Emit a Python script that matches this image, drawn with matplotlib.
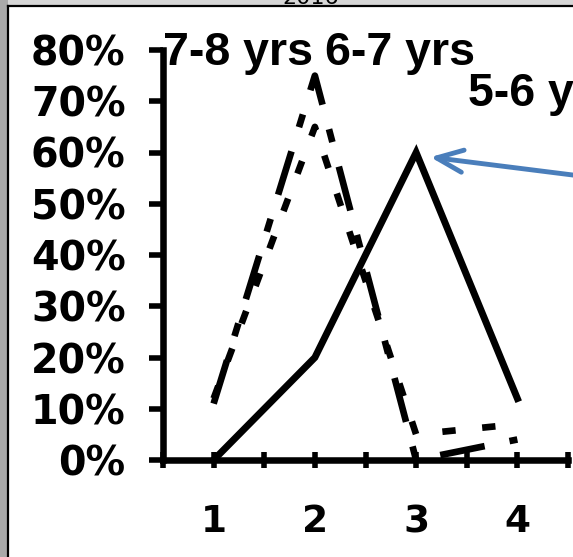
import matplotlib.pyplot as plt
from matplotlib.lines import Line2D
from matplotlib.patches import Rectangle
from matplotlib.ticker import PercentFormatter, MultipleLocator, FuncFormatter

# Dimensioni in pixel della figura
W, H = 573, 557

# Dati: quota per categoria e fascia d'eta
categories = [1, 2, 3, 4]
share_5_6 = [0, 20, 60, 12]
share_6_7 = [12, 65, 5, 7]
share_7_8 = [11, 75, 0, 4]
y_ticks = [0, 10, 20, 30, 40, 50, 60, 70, 80]
year_title = '2016'

plt.rcParams['font.family'] = 'DejaVu Sans'
plt.rcParams['font.weight'] = 'bold'


def fx(px):
    return px / W


def fy(py):
    return 1 - py / H


fig = plt.figure(figsize=(W / 100, H / 100), dpi=100)
fig.patch.set_facecolor('white')

# Cornice grigia e bordo nero
fig.add_artist(Rectangle((0, fy(6)), 1, 6 / H, transform=fig.transFigure,
                         color='#d6d6d6', lw=0, zorder=0))
fig.add_artist(Rectangle((0, 0), fx(8), 1, transform=fig.transFigure,
                         color='#a9a9a9', lw=0, zorder=0))
fig.add_artist(Line2D([fx(8), 1], [fy(6), fy(6)], transform=fig.transFigure,
                      color='black', lw=1.6))
fig.add_artist(Line2D([fx(8), fx(8)], [0, fy(6)], transform=fig.transFigure,
                      color='black', lw=1.6))
fig.text(fx(311), fy(4), year_title, ha='center', va='baseline',
         fontsize=16, fontweight='normal')

ax = fig.add_axes([fx(163), fy(460), (568 - 163) / W, 410 / H])
ax.set_facecolor('none')

# Serie
ax.plot(categories, share_5_6, color='black', lw=5.0, solid_joinstyle='miter',
        clip_on=False, zorder=3)
ax.plot(categories, share_6_7, color='black', lw=4.8,
        linestyle=(0, (2.0, 4.0)), clip_on=False, zorder=3)
ax.plot(categories, share_7_8, color='black', lw=4.8,
        linestyle=(0, (6.8, 3.8, 2.0, 3.8)), clip_on=False, zorder=3)

ax.set_xlim(0.5, 4.5)
ax.set_ylim(0, 80)

# Assi
for side in ['top', 'right']:
    ax.spines[side].set_visible(False)
for side in ['left', 'bottom']:
    ax.spines[side].set_linewidth(4.7)

ax.set_yticks(y_ticks)
ax.yaxis.set_major_formatter(PercentFormatter(100, decimals=0))
ax.tick_params(axis='y', direction='out', length=10, width=4, pad=17,
               labelsize=28.5)

# Tacche ogni mezza unita, etichette solo sulle categorie
ax.xaxis.set_major_locator(MultipleLocator(0.5))
ax.xaxis.set_major_formatter(
    FuncFormatter(lambda v, pos: str(int(round(v))) if round(v) in categories
                  and abs(v - round(v)) < 1e-6 else ''))
ax.tick_params(axis='x', direction='inout', length=12, width=4, pad=26,
               labelsize=27)

# Etichette delle serie
label_font = dict(family='Liberation Sans', fontweight='bold', fontsize=33.5)
fig.text(fx(163), fy(65), '7-8 yrs', ha='left', va='baseline', **label_font)
fig.text(fx(325), fy(65), '6-7 yrs', ha='left', va='baseline', **label_font)
fig.text(fx(468), fy(106), '5-6 yrs', ha='left', va='baseline', **label_font)

# Freccia verso il picco della fascia 5-6
ax.annotate('', xy=(3.14, 59.1), xytext=(5.8, 52.5),
            arrowprops=dict(arrowstyle='->, head_length=0.95, head_width=0.4',
                            color='#4A7EBB', lw=3.5, mutation_scale=20,
                            shrinkA=0, shrinkB=0),
            annotation_clip=False)

fig.savefig('out.png', dpi=100)
